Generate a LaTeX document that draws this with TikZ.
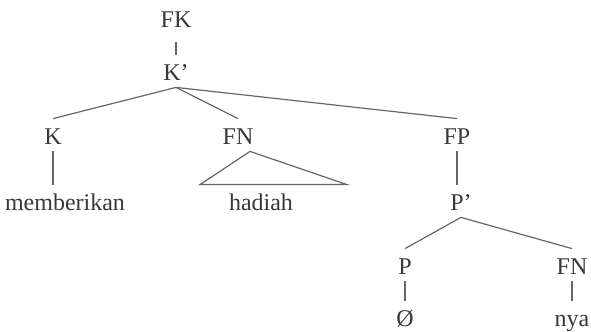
\documentclass[tikz,border=0pt]{standalone}
\usepackage{fontspec}
\setmainfont{Liberation Serif}
\usetikzlibrary{calc}
\begin{document}
\begin{tikzpicture}[x=0.5pt,y=-0.5pt,
  cat/.style={inner sep=0pt,anchor=base,text height=13pt,text depth=3pt,text=black!78,font=\fontsize{12}{14}\selectfont},
  branch/.style={draw=black!60,line width=0.6pt}]
\useasboundingbox (0,0) rectangle (591,332);
\node[cat] (fk) at (176,27) {FK};
\node[cat] (kbar) at (176,81) {K’};
\node[cat] (k) at (53,145) {K};
\node[cat] (fn) at (238,145) {FN};
\node[cat] (fp) at (457,145) {FP};
\node[cat] (memberikan) at (65,211) {memberikan};
\node[cat] (hadiah) at (261,211) {hadiah};
\node[cat] (pbar) at (461,211) {P’};
\node[cat] (p) at (405,275) {P};
\node[cat] (fnb) at (572,275) {FN};
\node[cat] (nol) at (405,327) {Ø};
\node[cat] (nya) at (572,327) {nya};
\draw[branch,shorten <=4.5pt] (fk.south) -- (kbar.north);
\foreach \d in {k,fn,fp}{\draw[branch] (kbar.south) -- (\d.north);}
\draw[branch] (k.south) -- (k.south |- memberikan.north);
\draw[branch] ($(fn.south)+(12,0)$) -- ($(hadiah.north)+(-61,0)$) -- ($(hadiah.north)+(86,0)$) -- cycle;
\draw[branch] (fp.south) -- (fp.south |- pbar.north);
\foreach \d in {p,fnb}{\draw[branch] (pbar.south) -- (\d.north);}
\draw[branch] (p.south) -- (nol.north);
\draw[branch] (fnb.south) -- (nya.north);
\end{tikzpicture}
\end{document}
